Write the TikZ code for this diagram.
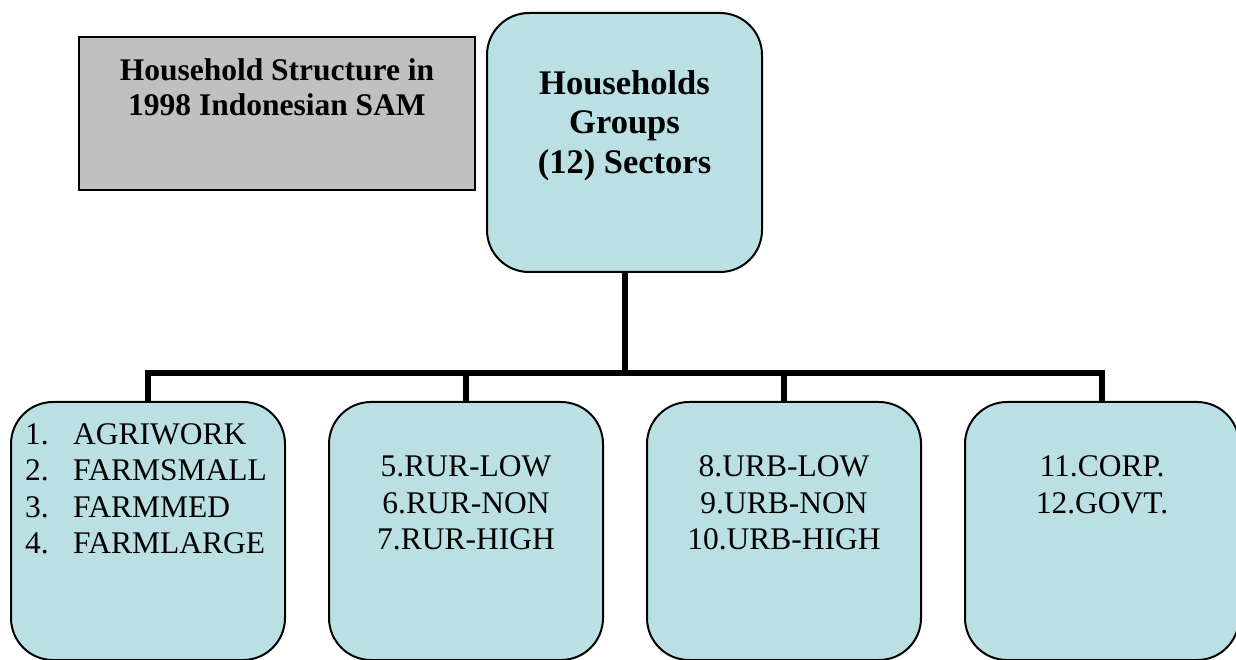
\documentclass[tikz,border=0pt]{standalone}
\usepackage{fontspec}
\setmainfont{Liberation Serif}
\definecolor{boxcyan}{RGB}{187,224,228}
\definecolor{boxgrey}{RGB}{192,192,192}
\begin{document}
\begin{tikzpicture}[x=1pt,y=1pt,line join=miter,
		grp/.style={draw,line width=2pt,fill=boxcyan,rounded corners=42pt,minimum width=274pt,minimum height=258pt,inner sep=0pt},
		txt/.style={inner sep=0pt,align=center,font=\fontsize{31.5}{36.5}\selectfont},
		conn/.style={line width=6pt}]
	\useasboundingbox (0,0) rectangle (1236,659);
	\clip (0,0) rectangle (1236,659);
	% title box
	\node[draw,line width=2pt,fill=boxgrey,minimum width=396pt,minimum height=153pt,inner sep=0pt] (title) at (277,545.5) {};
	\node[txt,anchor=north,font=\bfseries\fontsize{31.5}{35}\selectfont] (titletxt) at (277,601) {Household Structure in\\1998 Indonesian SAM};
	% households node
	\node[grp,minimum width=275pt,minimum height=259pt] (hh) at (624.5,516.5) {};
	\node[txt,anchor=north,font=\bfseries\fontsize{34.5}{39.5}\selectfont] (hhtxt) at (624.5,589) {Households\\Groups\\(12) Sectors};
	% the four groups
	\foreach \i/\x in {1/148,2/466,3/784,4/1102}{
		\node[grp] (g\i) at (\x,128) {};}
	\node[txt,anchor=north west,align=left] (g1txt) at (25,236) {\makebox[48pt][l]{1.}AGRIWORK\\\makebox[48pt][l]{2.}FARMSMALL\\\makebox[48pt][l]{3.}FARMMED\\\makebox[48pt][l]{4.}FARMLARGE};
	\node[txt,anchor=north] (g2txt) at (466,203.3) {5.RUR-LOW\\6.RUR-NON\\7.RUR-HIGH};
	\node[txt,anchor=north] (g3txt) at (784,203.3) {8.URB-LOW\\9.URB-NON\\10.URB-HIGH};
	\node[txt,anchor=north] (g4txt) at (1102,203.3) {11.CORP.\\12.GOVT.};
	% connectors
	\coordinate (bus) at (0,286);
	\draw[conn] (hh.south) -- (hh.south |- bus);
	\draw[conn] (g1.north) -- (g1.north |- bus) -- (g4.north |- bus) -- (g4.north);
	\foreach \i in {2,3}{
		\draw[conn] (g\i.north) -- (g\i.north |- bus);}
\end{tikzpicture}
\end{document}
